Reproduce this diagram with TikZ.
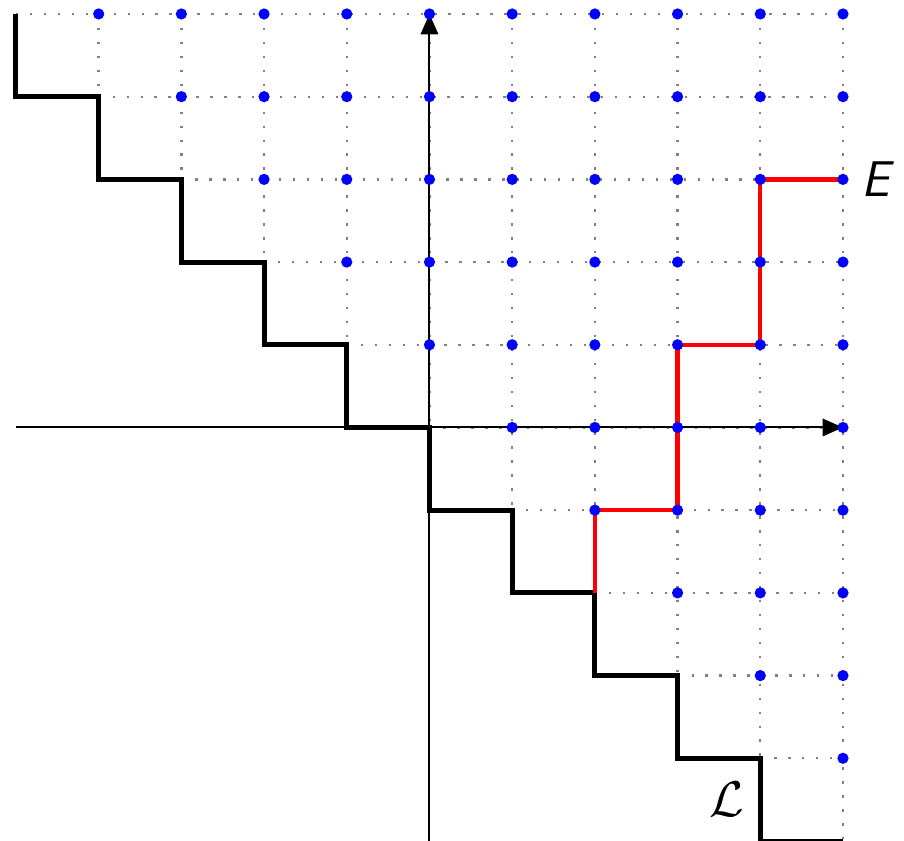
\documentclass[tikz,border=0pt]{standalone}
\usetikzlibrary{arrows.meta}
\begin{document}
\begin{tikzpicture}[x=1cm,y=1cm,
  gridline/.style={gray, line width=0.8pt, dash pattern=on 0.8pt off 4pt},
  axis/.style={black, line width=0.7pt, -{Triangle[length=7pt,width=6pt]}},
  stair/.style={black, line width=1.7pt},
  redpath/.style={red, line width=1.5pt},
  lat/.style={fill=blue, draw=none}]
\useasboundingbox (-5.193,-4.99) rectangle (5.738,5.169);
% dotted grid above the staircase
\draw[gridline] (-5,5) -- (5,5);
\foreach \y in {-4,...,4} {
  \draw[gridline] (-\y,\y) -- (5,\y);
}
\foreach \x in {-4,...,4} {
  \draw[gridline] (\x,5) -- (\x,-\x);
}
\draw[gridline] (5,5) -- (5,-5);
% axes
\coordinate (xs) at (-5,0);
\coordinate (xe) at (5,0);
\coordinate (ys) at (0,-5);
\coordinate (ye) at (0,5);
\draw[axis] (xs) -- (xe);
\draw[axis] (ys) -- (ye);
% staircase L
\draw[stair] (-5,5) \foreach \k in {4,3,...,-4} { |- (-\k,\k) } |- (5,-5);
% red path
\coordinate (r0) at (2,-2);
\coordinate (r1) at (3,-1);
\coordinate (r2) at (4,1);
\coordinate (r3) at (5,3);
\draw[redpath] (r0) |- (r1) |- (r2) |- (r3);
% lattice points
\foreach \x in {-5,...,5} {
  \foreach \y in {-5,...,5} {
    \pgfmathtruncatemacro{\s}{\x+\y}
    \ifnum\s>0
      \fill[lat] (\x,\y) circle (0.068);
    \fi
  }
}
% labels
\node (E) at (5.42,3) {\LARGE\textsf{\textit{E}}};
\node (L) at (3.6,-4.5) {\LARGE$\mathcal{L}$};
\end{tikzpicture}
\end{document}
